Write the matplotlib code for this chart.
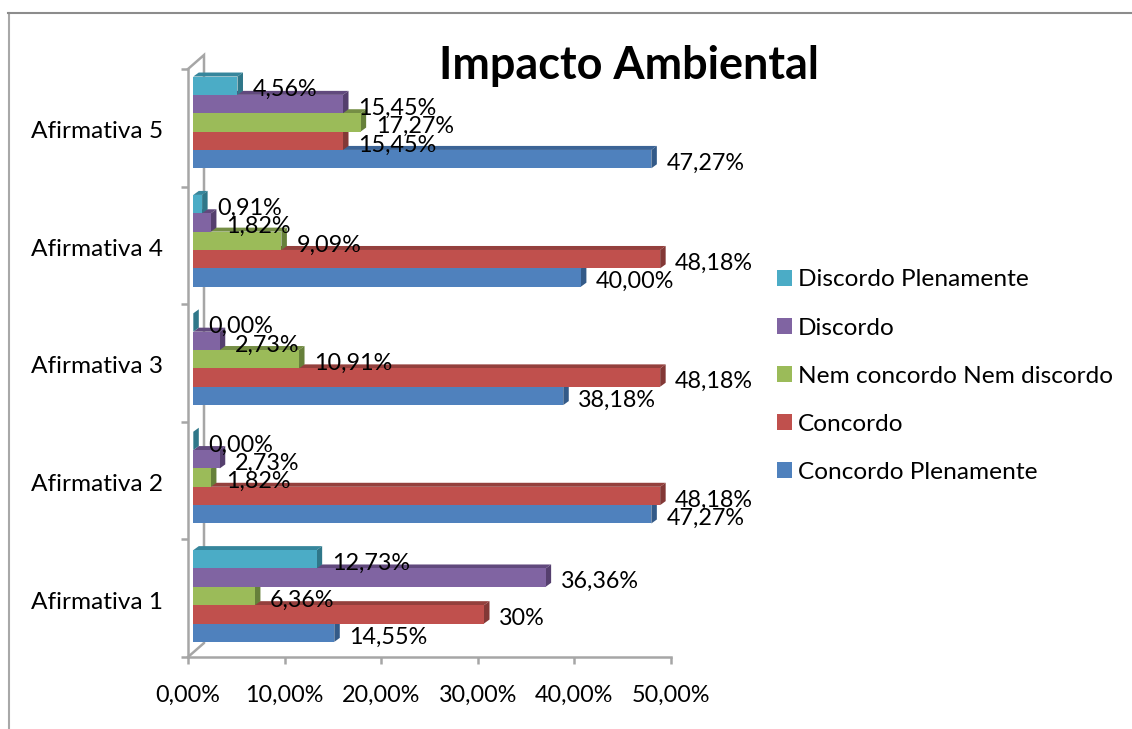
import matplotlib
matplotlib.use('Agg')
import matplotlib.pyplot as plt
from matplotlib.patches import Polygon, Patch

plt.rcParams['font.family'] = ['Lato', 'DejaVu Sans']

categories = ['Afirmativa 1', 'Afirmativa 2', 'Afirmativa 3', 'Afirmativa 4', 'Afirmativa 5']
x_tick_values = [0, 10, 20, 30, 40, 50]
x_tick_labels = ['0,00%', '10,00%', '20,00%', '30,00%', '40,00%', '50,00%']

series_names = ['Concordo Plenamente', 'Concordo', 'Nem concordo Nem discordo', 'Discordo', 'Discordo Plenamente']
concordo_plenamente = [14.55, 47.27, 38.18, 40.00, 47.27]
concordo = [30, 48.18, 48.18, 48.18, 15.45]
nem_nem = [6.36, 1.82, 10.91, 9.09, 17.27]
discordo = [36.36, 2.73, 2.73, 1.82, 15.45]
discordo_plenamente = [12.73, 0.00, 0.00, 0.91, 4.56]
all_values = [concordo_plenamente, concordo, nem_nem, discordo, discordo_plenamente]

# labels as printed, the 30% one has no decimals
concordo_plenamente_labels = ['14,55%', '47,27%', '38,18%', '40,00%', '47,27%']
concordo_labels = ['30%', '48,18%', '48,18%', '48,18%', '15,45%']
nem_nem_labels = ['6,36%', '1,82%', '10,91%', '9,09%', '17,27%']
discordo_labels = ['36,36%', '2,73%', '2,73%', '1,82%', '15,45%']
discordo_plenamente_labels = ['12,73%', '0,00%', '0,00%', '0,91%', '4,56%']
all_labels = [concordo_plenamente_labels, concordo_labels, nem_nem_labels, discordo_labels, discordo_plenamente_labels]

front_colors = ['#4f81bd', '#c0504d', '#9bbb59', '#8064a2', '#4bacc6']
top_colors = ['#3c6496', '#94403d', '#758e45', '#61497d', '#36869c']
side_colors = ['#335a88', '#833836', '#66803a', '#553f6e', '#2f7789']

W, H = 1132, 729
GREY = '#a6a6a6'
FS = 16.8
FS_TEXT = 17.6


def px_box(left, top, right, bottom):
    return [left / W, 1 - bottom / H, (right - left) / W, (bottom - top) / H]


fig = plt.figure(figsize=(W / 100, H / 100), dpi=100, facecolor='white')

# chart border: only the left and top edges show
fig.add_artist(plt.Line2D([8.5 / W, 8.5 / W], [0, 1 - 13 / H], color='#a8a8a8', lw=1.5))
fig.add_artist(plt.Line2D([7.5 / W, 1], [1 - 13 / H, 1 - 13 / H], color='#8c8c8c', lw=1.5))

# axis frame and tick labels
frame = fig.add_axes(px_box(188, 69, 671, 657))
frame.set_xlim(0, 50)
frame.set_ylim(0, 5)
for s in ['top', 'right']:
    frame.spines[s].set_visible(False)
for s in ['left', 'bottom']:
    frame.spines[s].set_color(GREY)
    frame.spines[s].set_linewidth(1.8)
frame.set_xticks(x_tick_values)
frame.set_xticklabels(x_tick_labels, fontsize=FS)
frame.set_yticks(range(6))
frame.set_yticklabels([])
# category names sit a touch below the middle of each band
frame.set_yticks([i + 0.483 for i in range(5)], minor=True)
frame.set_yticklabels(categories, minor=True, fontsize=FS_TEXT)
frame.tick_params(axis='both', which='major', length=5, width=1.8, color=GREY)
frame.tick_params(axis='x', which='major', pad=15)
frame.tick_params(axis='y', which='minor', length=0, pad=18)

# back wall edges behind the bars
wall_dx = 16 / 483
wall_dy = 14 / 588
frame.plot([0, wall_dx, wall_dx, 0], [0, wall_dy, 1 + wall_dy, 1], transform=frame.transAxes,
           color=GREY, lw=1.8, clip_on=False, solid_joinstyle='miter')

# bars sit in their own plane, slightly off the axis frame
bar_ax = fig.add_axes(px_box(193.3, 63.2, 677.8, 655.2))
bar_ax.patch.set_alpha(0)
bar_ax.axis('off')
bar_ax.set_xlim(0, 50)
bar_ax.set_ylim(0, 5)

bar_h = 0.155
depth_x = 5.5 * 50 / 484.5
depth_y = 4 * 5 / 592

for s, (values, labels) in enumerate(zip(all_values, all_labels)):
    for c, v in enumerate(values):
        y0 = c + 0.5 + (s - 2.5) * bar_h
        y1 = y0 + bar_h
        bar_ax.add_patch(Polygon([(0, y1), (depth_x, y1 + depth_y), (v + depth_x, y1 + depth_y), (v, y1)],
                                 facecolor=top_colors[s], edgecolor='none', zorder=2 + s))
        bar_ax.add_patch(Polygon([(v, y0), (v + depth_x, y0 + depth_y), (v + depth_x, y1 + depth_y), (v, y1)],
                                 facecolor=side_colors[s], edgecolor='none', zorder=2 + s))
        bar_ax.barh(y0 + bar_h / 2, v, height=bar_h, color=front_colors[s], zorder=2 + s)
        bar_ax.text(v + 1.55, y0 + bar_h / 2 - 0.035, labels[c], fontsize=FS, va='center', ha='left',
                    color='black', zorder=20, clip_on=False)

fig.text(629 / W, 1 - 66 / H, 'Impacto Ambiental', fontsize=32.4, fontweight='bold',
         ha='center', va='center', color='black')

handles = [Patch(facecolor=front_colors[i], label=series_names[i]) for i in range(5)][::-1]
fig.legend(handles=handles, loc='upper left', bbox_to_anchor=(777 / W, 1 - 269.5 / H), frameon=False,
           fontsize=FS_TEXT, labelspacing=1.105, handlelength=0.62, handleheight=0.62, handletextpad=0.24,
           borderaxespad=0, borderpad=0)

plt.savefig('out.png', dpi=100)
